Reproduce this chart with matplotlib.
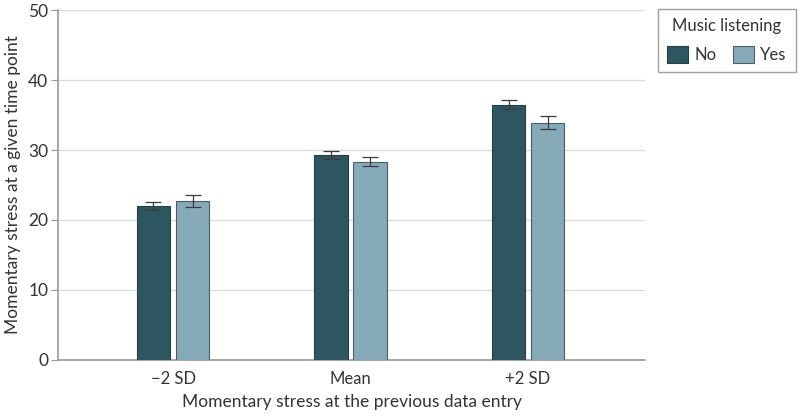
import numpy as np
import matplotlib.pyplot as plt

plt.rcParams['font.family'] = ['Lato', 'DejaVu Sans']

categories = ['−2 SD', 'Mean', '+2 SD']
no_means = [22.0, 29.3, 36.5]
no_err = [0.6, 0.6, 0.65]
yes_means = [22.7, 28.3, 33.9]
yes_err = [0.9, 0.65, 0.95]

c_no = '#2e5661'
c_yes = '#87aab8'
grey = '#9a9a9a'

fig = plt.figure(figsize=(8, 4.19), dpi=100)
ax = fig.add_axes([0.0725, 0.141, 0.734, 0.835])

x = np.arange(len(categories))
w = 0.19
off = 0.11
ekw = dict(ecolor='#3a3a3a', elinewidth=0.9, capsize=6, capthick=0.9)
ax.bar(x - off, no_means, w, yerr=no_err, color=c_no, edgecolor='#253f47',
       linewidth=0.8, error_kw=ekw, label='No', zorder=3)
ax.bar(x + off, yes_means, w, yerr=yes_err, color=c_yes, edgecolor='#4a5f68',
       linewidth=0.8, error_kw=ekw, label='Yes', zorder=3)

ax.set_xlim(-0.648, 2.66)
ax.set_ylim(0, 50)
ax.set_yticks(range(0, 51, 10))
ax.set_xticks(x)
ax.set_xticklabels(categories)
ax.yaxis.grid(True, color='#dcdcdc', linewidth=1, zorder=0)
ax.set_axisbelow(True)

for s in ['top', 'right']:
    ax.spines[s].set_visible(False)
for s in ['left', 'bottom']:
    ax.spines[s].set_color(grey)
    ax.spines[s].set_linewidth(1.2)
ax.tick_params(axis='y', length=5, color=grey, labelsize=12.5, labelcolor='#333333', pad=2)
ax.tick_params(axis='x', length=0, labelsize=12, labelcolor='#333333', pad=8)

ax.set_ylabel('Momentary stress at a given time point', fontsize=12.5, color='#333333', labelpad=5)
ax.set_xlabel('Momentary stress at the previous data entry', fontsize=12.5, color='#333333', labelpad=5)

leg = fig.legend(title='Music listening', ncol=2, loc='upper right',
                 bbox_to_anchor=(0.995, 0.979), borderaxespad=0, frameon=True, fancybox=False,
                 fontsize=12, title_fontsize=12, handlelength=1.25, handleheight=1.25,
                 columnspacing=1.0, handletextpad=0.4, borderpad=0.55, labelspacing=0.7)
leg.get_frame().set_edgecolor('#8a8a8a')
leg.get_frame().set_linewidth(1)
for t in leg.get_texts():
    t.set_color('#333333')
leg.get_title().set_color('#333333')

fig.savefig('out.png', dpi=100)
